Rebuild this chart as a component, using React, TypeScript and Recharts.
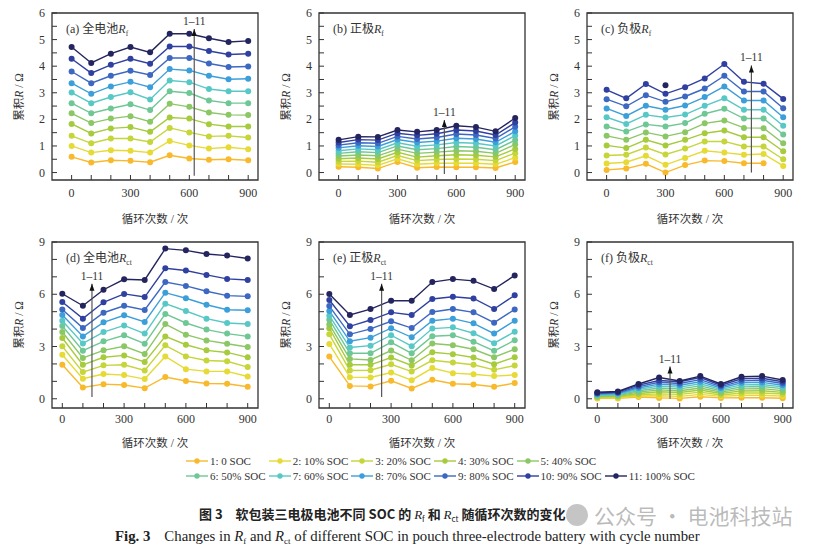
import React from 'react'
import { LineChart, Line, XAxis, YAxis, ReferenceArea, ReferenceLine, ReferenceDot } from 'recharts'

type Cell = number | null

const cycles = [0, 100, 200, 300, 400, 500, 600, 700, 800, 900]

const socLabels = [
  '1: 0 SOC', '2: 10% SOC', '3: 20% SOC', '4: 30% SOC', '5: 40% SOC',
  '6: 50% SOC', '7: 60% SOC', '8: 70% SOC', '9: 80% SOC', '10: 90% SOC', '11: 100% SOC',
]

const socColors = [
  '#F8BA2C', '#E6DA36', '#C5D53A', '#A6CB3C', '#8BC765', '#6FC795',
  '#58C8C6', '#3C9FDA', '#3D68C2', '#2F40A0', '#24245F',
]

// (a) full cell Rf, one row per SOC (1 -> 11)
const fullRf: Cell[][] = [
  [0.59, 0.38, 0.46, 0.44, 0.39, 0.65, 0.53, 0.48, 0.50, 0.46],
  [1.00, 0.75, 0.84, 0.82, 0.75, 1.19, 1.02, 0.90, 0.95, 0.88],
  [1.38, 1.10, 1.28, 1.28, 1.15, 1.68, 1.51, 1.36, 1.38, 1.32],
  [1.83, 1.47, 1.66, 1.71, 1.53, 2.07, 2.03, 1.82, 1.73, 1.73],
  [2.23, 1.86, 2.03, 2.12, 1.91, 2.59, 2.47, 2.26, 2.17, 2.16],
  [2.61, 2.23, 2.41, 2.57, 2.35, 3.06, 2.99, 2.71, 2.61, 2.61],
  [3.01, 2.61, 2.84, 3.02, 2.75, 3.46, 3.40, 3.14, 3.06, 3.06],
  [3.36, 2.96, 3.24, 3.41, 3.21, 3.89, 3.84, 3.64, 3.51, 3.53],
  [3.80, 3.36, 3.64, 3.83, 3.67, 4.31, 4.31, 4.10, 3.97, 3.99],
  [4.28, 3.74, 4.05, 4.28, 4.09, 4.74, 4.74, 4.57, 4.44, 4.47],
  [4.72, 4.12, 4.47, 4.72, 4.52, 5.22, 5.22, 5.05, 4.91, 4.95],
]

// (b) positive electrode Rf
const posRf: Cell[][] = [
  [0.22, 0.20, 0.15, 0.40, 0.18, 0.21, 0.20, 0.20, 0.17, 0.40],
  [0.32, 0.31, 0.27, 0.52, 0.31, 0.35, 0.35, 0.35, 0.31, 0.56],
  [0.42, 0.43, 0.39, 0.64, 0.45, 0.49, 0.51, 0.50, 0.45, 0.73],
  [0.52, 0.55, 0.51, 0.76, 0.58, 0.63, 0.67, 0.65, 0.59, 0.89],
  [0.62, 0.66, 0.63, 0.88, 0.72, 0.77, 0.82, 0.80, 0.72, 1.06],
  [0.72, 0.78, 0.75, 1.00, 0.86, 0.90, 0.98, 0.95, 0.86, 1.22],
  [0.82, 0.89, 0.86, 1.12, 0.99, 1.04, 1.13, 1.10, 1.00, 1.39],
  [0.93, 1.01, 0.98, 1.24, 1.13, 1.18, 1.29, 1.26, 1.14, 1.55],
  [1.03, 1.12, 1.10, 1.36, 1.26, 1.32, 1.45, 1.41, 1.28, 1.72],
  [1.13, 1.24, 1.22, 1.48, 1.40, 1.46, 1.60, 1.56, 1.41, 1.88],
  [1.23, 1.35, 1.34, 1.60, 1.53, 1.60, 1.76, 1.71, 1.55, 2.05],
]

// (c) negative electrode Rf (SOC 11 only has a point at 300)
const negRf: Cell[][] = [
  [0.10, 0.15, 0.33, 0.00, 0.28, 0.45, 0.43, 0.35, 0.35, null],
  [0.34, 0.39, 0.63, 0.29, 0.55, 0.82, 0.75, 0.67, 0.70, 0.25],
  [0.64, 0.67, 0.94, 0.68, 0.90, 1.17, 1.17, 0.98, 0.98, 0.50],
  [1.02, 0.92, 1.23, 1.02, 1.23, 1.48, 1.58, 1.33, 1.33, 0.80],
  [1.38, 1.23, 1.51, 1.36, 1.52, 1.85, 1.96, 1.68, 1.67, 1.10],
  [1.73, 1.54, 1.81, 1.73, 1.86, 2.21, 2.40, 2.03, 2.03, 1.43],
  [2.08, 1.83, 2.17, 2.07, 2.18, 2.51, 2.79, 2.36, 2.36, 1.76],
  [2.41, 2.13, 2.51, 2.36, 2.52, 2.84, 3.24, 2.71, 2.71, 2.08],
  [2.76, 2.49, 2.91, 2.66, 2.86, 3.16, 3.64, 3.05, 3.05, 2.42],
  [3.11, 2.79, 3.33, 2.96, 3.21, 3.54, 4.08, 3.41, 3.34, 2.77],
  [null, null, null, 3.28, null, null, null, null, null, null],
]

// (d) full cell Rct
const fullRct: Cell[][] = [
  [1.95, 0.65, 0.84, 0.79, 0.61, 1.25, 1.02, 0.88, 0.86, 0.69],
  [2.53, 1.15, 1.42, 1.36, 1.13, 2.43, 1.70, 1.57, 1.57, 1.28],
  [3.01, 1.53, 1.92, 1.95, 1.63, 3.07, 2.43, 2.20, 2.15, 1.82],
  [3.49, 1.95, 2.38, 2.49, 2.11, 3.58, 3.10, 2.78, 2.66, 2.38],
  [3.83, 2.34, 2.78, 3.01, 2.57, 4.29, 3.68, 3.35, 3.16, 2.97],
  [4.18, 2.76, 3.30, 3.64, 3.16, 4.87, 4.35, 3.97, 3.74, 3.58],
  [4.48, 3.18, 3.83, 4.21, 3.74, 5.46, 5.04, 4.60, 4.35, 4.29],
  [4.81, 3.58, 4.39, 4.79, 4.41, 6.09, 5.77, 5.40, 5.11, 5.08],
  [5.13, 4.06, 4.94, 5.34, 5.10, 6.70, 6.48, 6.17, 5.92, 5.88],
  [5.56, 4.60, 5.54, 6.02, 5.84, 7.49, 7.36, 7.11, 6.88, 6.82],
  [6.03, 5.34, 6.26, 6.86, 6.82, 8.62, 8.52, 8.31, 8.22, 8.05],
]

// (e) positive electrode Rct
const posRct: Cell[][] = [
  [2.42, 0.74, 0.71, 1.03, 0.59, 1.09, 0.86, 0.82, 0.69, 0.90],
  [3.15, 1.24, 1.22, 1.51, 1.07, 1.76, 1.47, 1.41, 1.30, 1.37],
  [3.70, 1.62, 1.64, 1.98, 1.56, 2.21, 2.08, 1.95, 1.66, 1.91],
  [4.05, 1.95, 1.95, 2.37, 1.91, 2.67, 2.56, 2.37, 1.98, 2.39],
  [4.27, 2.29, 2.23, 2.77, 2.21, 3.17, 3.07, 2.84, 2.39, 2.84],
  [4.54, 2.61, 2.61, 3.24, 2.61, 3.59, 3.65, 3.28, 2.75, 3.36],
  [4.77, 2.94, 3.05, 3.65, 3.02, 4.03, 4.10, 3.76, 3.19, 3.85],
  [5.04, 3.30, 3.51, 4.05, 3.53, 4.48, 4.60, 4.33, 3.74, 4.48],
  [5.32, 3.70, 4.01, 4.45, 4.06, 4.98, 5.15, 4.96, 4.37, 5.13],
  [5.67, 4.16, 4.52, 4.96, 4.81, 5.73, 5.86, 5.76, 5.15, 5.94],
  [6.01, 4.81, 5.15, 5.63, 5.63, 6.70, 6.87, 6.77, 6.30, 7.08],
]

// (f) negative electrode Rct
const negRct: Cell[][] = [
  [0.02, 0.02, 0.10, 0.05, 0.02, 0.12, 0.05, 0.06, 0.06, 0.03],
  [0.05, 0.06, 0.16, 0.17, 0.14, 0.25, 0.14, 0.20, 0.20, 0.15],
  [0.08, 0.10, 0.23, 0.28, 0.25, 0.38, 0.22, 0.33, 0.33, 0.27],
  [0.12, 0.14, 0.30, 0.40, 0.36, 0.50, 0.30, 0.45, 0.46, 0.37],
  [0.15, 0.18, 0.38, 0.51, 0.46, 0.62, 0.38, 0.57, 0.58, 0.47],
  [0.19, 0.22, 0.46, 0.62, 0.57, 0.74, 0.46, 0.68, 0.70, 0.58],
  [0.22, 0.26, 0.54, 0.73, 0.67, 0.86, 0.54, 0.80, 0.82, 0.68],
  [0.26, 0.30, 0.62, 0.84, 0.78, 0.98, 0.62, 0.92, 0.94, 0.78],
  [0.30, 0.34, 0.70, 0.95, 0.88, 1.10, 0.70, 1.03, 1.06, 0.88],
  [0.33, 0.38, 0.78, 1.05, 0.98, 1.22, 0.78, 1.15, 1.18, 0.98],
  [0.37, 0.42, 0.85, 1.22, 1.02, 1.30, 0.85, 1.26, 1.30, 1.08],
]

const rfTicks = [0, 0.5, 1, 1.5, 2, 2.5, 3, 3.5, 4, 4.5, 5, 5.5, 6]
const rfLabels = [0, 1, 2, 3, 4, 5, 6]
const rctTicks = [0, 1, 2, 3, 4, 5, 6, 7, 8, 9]
const rctLabels = [0, 3, 6, 9]
const cycleLabels = [0, 300, 600, 900]

const ink = '#333'
const serif = '"Liberation Serif", "Times New Roman", "Noto Sans CJK SC", serif'

const plotW = 206

function toRows(series: Cell[][]) {
  return cycles.map((c, i) => {
    const row: Record<string, Cell> = { cycle: c }
    series.forEach((s, k) => {
      row['s' + (k + 1)] = s[i]
    })
    return row
  })
}

function CycleTick({ x, y, payload, labelDy }: any) {
  const v = payload.value
  return (
    <g>
      <line x1={x} x2={x} y1={y} y2={y - 5} stroke={ink} strokeWidth={1} />
      {cycleLabels.includes(v) && (
        <text x={x} y={y + labelDy} textAnchor="middle" fontFamily={serif} fontSize={12} fill={ink}>
          {v}
        </text>
      )}
    </g>
  )
}

function ValueTick({ x, y, payload, labels }: any) {
  const v = payload.value
  return (
    <g>
      <line x1={x} x2={x + 5} y1={y} y2={y} stroke={ink} strokeWidth={1} />
      {labels.includes(v) && (
        <text x={x - 7} y={y + 4} textAnchor="end" fontFamily={serif} fontSize={12} fill={ink}>
          {v}
        </text>
      )}
    </g>
  )
}

function ArrowTip({ cx, cy }: any) {
  return (
    <g>
      <path d={`M${cx},${cy} L${cx - 2.5},${cy + 7} L${cx + 2.5},${cy + 7} Z`} fill="#111" />
      <text x={cx} y={cy - 4} textAnchor="middle" fontFamily={serif} fontSize={11.5} fill={ink}>
        1–11
      </text>
    </g>
  )
}

interface PanelProps {
  left: number
  top: number
  height: number
  series: Cell[][]
  xDomain: [number, number]
  yDomain: [number, number]
  yTicks: number[]
  yLabels: number[]
  arrow: { x: number; from: number; to: number }
  tag: string
  name: string
  sub: string
  xLabelDy: number
  xTitleGap: number
}

function Panel(p: PanelProps) {
  const rows = toRows(p.series)
  return (
    <>
      <div style={{ position: 'absolute', left: p.left - 52, top: p.top - 13 }}>
        <LineChart
          width={52 + plotW + 8}
          height={13 + p.height + 24}
          data={rows}
          margin={{ top: 13, right: 8, bottom: 0, left: 0 }}
        >
          <XAxis
            dataKey="cycle"
            type="number"
            domain={p.xDomain}
            ticks={cycles}
            interval={0}
            allowDataOverflow
            axisLine={false}
            tickLine={false}
            tickSize={0}
            tickMargin={0}
            height={24}
            tick={<CycleTick labelDy={p.xLabelDy} />}
          />
          <YAxis
            type="number"
            domain={p.yDomain}
            ticks={p.yTicks}
            interval={0}
            allowDataOverflow
            axisLine={false}
            tickLine={false}
            tickSize={0}
            tickMargin={0}
            width={52}
            tick={<ValueTick labels={p.yLabels} />}
          />
          <ReferenceArea
            x1={p.xDomain[0]}
            x2={p.xDomain[1]}
            y1={p.yDomain[0]}
            y2={p.yDomain[1]}
            fill="none"
            fillOpacity={0}
            stroke={ink}
            strokeWidth={1.3}
            ifOverflow="visible"
          />
          {socColors.map((c, k) => (
            <Line
              key={k}
              dataKey={'s' + (k + 1)}
              stroke={c}
              strokeWidth={1.4}
              dot={{ r: 3, fill: c, stroke: c, strokeWidth: 0 }}
              activeDot={false}
              connectNulls={false}
              isAnimationActive={false}
            />
          ))}
          <ReferenceLine
            segment={[
              { x: p.arrow.x, y: p.arrow.from },
              { x: p.arrow.x, y: p.arrow.to },
            ]}
            stroke="#555"
            strokeWidth={1.2}
            ifOverflow="visible"
          />
          <ReferenceDot
            x={p.arrow.x}
            y={p.arrow.to}
            r={0}
            ifOverflow="visible"
            shape={(props: any) => <ArrowTip {...props} />}
          />
        </LineChart>
      </div>
      <div
        style={{
          position: 'absolute',
          left: p.left + 14,
          top: p.top + 8,
          fontSize: 12,
          lineHeight: '16px',
          whiteSpace: 'nowrap',
        }}
      >
        ({p.tag}) {p.name}
        <i>R</i>
        <span style={{ fontSize: 7.5, position: 'relative', top: 3 }}>{p.sub}</span>
      </div>
      <div
        style={{
          position: 'absolute',
          left: p.left - 34,
          top: p.top + p.height / 2,
          transform: 'translate(-50%, -50%) rotate(-90deg)',
          fontSize: 11.5,
          whiteSpace: 'nowrap',
        }}
      >
        累积<i>R</i> / Ω
      </div>
      <div
        style={{
          position: 'absolute',
          left: p.left + plotW / 2,
          top: p.top + p.height + p.xTitleGap,
          transform: 'translate(-50%, -50%)',
          fontSize: 11.5,
          whiteSpace: 'nowrap',
        }}
      >
        循环次数 / 次
      </div>
    </>
  )
}

function LegendIcon({ color }: { color: string }) {
  return (
    <svg width={24} height={10} style={{ display: 'block' }}>
      <line x1={1} x2={23} y1={5} y2={5} stroke={color} strokeWidth={1.4} />
      <circle cx={12} cy={5} r={2.7} fill={color} />
    </svg>
  )
}

export default function App() {
  const topRow = { height: 167, yDomain: [-0.28, 6] as [number, number], yTicks: rfTicks, yLabels: rfLabels, xDomain: [-100, 950] as [number, number], xLabelDy: 17, xTitleGap: 38 }
  const botRow = { height: 166, yDomain: [-0.53, 9] as [number, number], yTicks: rctTicks, yLabels: rctLabels, xDomain: [-50, 950] as [number, number], xLabelDy: 15, xTitleGap: 34 }

  return (
    <div
      style={{
        position: 'absolute',
        left: 0,
        top: 0,
        width: 813,
        height: 547,
        background: '#fff',
        overflow: 'hidden',
        fontFamily: serif,
        color: ink,
      }}
    >
      <Panel {...topRow} left={52} top={13} series={fullRf} arrow={{ x: 625, from: -0.12, to: 5.4 }} tag="a" name="全电池" sub="f" />
      <Panel {...topRow} left={319} top={13} series={posRf} arrow={{ x: 539, from: -0.05, to: 1.98 }} tag="b" name="正极" sub="f" />
      <Panel {...topRow} left={587} top={13} series={negRf} arrow={{ x: 738, from: 0, to: 4.03 }} tag="c" name="负极" sub="f" />
      <Panel {...botRow} left={52} top={242} series={fullRct} arrow={{ x: 144, from: 0.1, to: 6.6 }} tag="d" name="全电池" sub="ct" />
      <Panel {...botRow} left={319} top={242} series={posRct} arrow={{ x: 254, from: 0.1, to: 6.6 }} tag="e" name="正极" sub="ct" />
      <Panel {...botRow} left={587} top={242} series={negRct} arrow={{ x: 353, from: 0, to: 1.85 }} tag="f" name="负极" sub="ct" />

      <div
        style={{
          position: 'absolute',
          left: 185,
          top: 453,
          display: 'grid',
          gridTemplateColumns: 'repeat(6, max-content)',
          columnGap: 2,
          fontSize: 11,
        }}
      >
        {socLabels.map((label, k) => (
          <div
            key={k}
            style={{
              gridRow: k < 5 ? 1 : 2,
              gridColumn: k < 5 ? k + 1 : k - 4,
              display: 'flex',
              alignItems: 'center',
              height: 15,
              whiteSpace: 'nowrap',
            }}
          >
            <LegendIcon color={socColors[k]} />
            <span style={{ marginLeft: 1 }}>{label}</span>
          </div>
        ))}
      </div>

      <div
        style={{
          position: 'absolute',
          left: 199,
          top: 505,
          fontSize: 13,
          lineHeight: '18px',
          fontWeight: 700,
          whiteSpace: 'nowrap',
          fontFamily: '"Noto Sans CJK SC", sans-serif',
          color: '#222',
        }}
      >
        图 3　软包装三电极电池不同 SOC 的 <i style={{ fontFamily: serif, fontWeight: 400 }}>R</i>
        <span style={{ fontSize: 8, fontWeight: 400, position: 'relative', top: 3 }}>f</span> 和{' '}
        <i style={{ fontFamily: serif, fontWeight: 400 }}>R</i>
        <span style={{ fontSize: 8, fontWeight: 400, position: 'relative', top: 3 }}>ct</span> 随循环次数的变化
      </div>

      <div
        style={{
          position: 'absolute',
          left: 115,
          top: 527,
          fontSize: 14.8,
          lineHeight: '18px',
          whiteSpace: 'nowrap',
          color: '#222',
        }}
      >
        <b>Fig. 3</b>
        <span style={{ marginLeft: 14 }}>Changes in </span>
        <i>R</i>
        <span style={{ fontSize: 9, position: 'relative', top: 3 }}>f</span> and <i>R</i>
        <span style={{ fontSize: 9, position: 'relative', top: 3 }}>ct</span> of different SOC in pouch three-electrode
        battery with cycle number
      </div>

      <div
        style={{
          position: 'absolute',
          left: 566,
          top: 504,
          width: 22,
          height: 22,
          borderRadius: 11,
          background: 'rgba(150,150,150,0.55)',
        }}
      />
      <div
        style={{
          position: 'absolute',
          left: 594,
          top: 501,
          fontSize: 21,
          lineHeight: '28px',
          whiteSpace: 'nowrap',
          fontFamily: '"Noto Sans CJK SC", sans-serif',
          color: 'rgba(140,140,140,0.6)',
        }}
      >
        公众号 · 电池科技站
      </div>
    </div>
  )
}
